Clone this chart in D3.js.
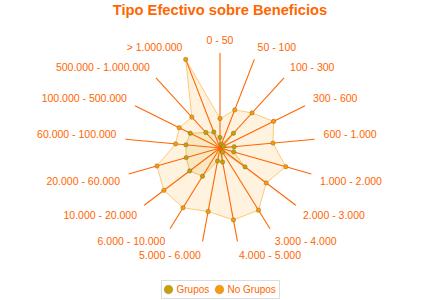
<!DOCTYPE html>
<html>
<head>
<meta charset="utf-8">
<script src="https://cdn.jsdelivr.net/npm/d3@7"></script>
<style>
  body { margin: 0; background: #fff; }
  #chart { width: 440px; height: 300px; }
  text { font-family: "Liberation Sans", Arial, sans-serif; }
</style>
</head>
<body>
<div id="chart"></div>
<script>
// categories (tramos) and series values
const categories = ["0 - 50", "50 - 100", "100 - 300", "300 - 600", "600 - 1.000",
  "1.000 - 2.000", "2.000 - 3.000", "3.000 - 4.000", "4.000 - 5.000", "5.000 - 6.000",
  "6.000 - 10.000", "10.000 - 20.000", "20.000 - 60.000", "60.000 - 100.000",
  "100.000 - 500.000", "500.000 - 1.000.000", "> 1.000.000"];
const grupos = [11, 4, 21, 4, 15, 15, 33, 5, 15, 14, 35, 40, 37, 36, 35, 22, 18];
const noGrupos = [31, 43, 50, 63, 56, 72, 61, 77, 77, 68, 74, 74, 69, 47, 48, 44, 100];
const seriesNames = ["Grupos", "No Grupos"];

/*
  SVG CANVAS
*/
const width = 440;
const height = 300;
const cx = 220, cy = 148;
const radius = 95;

const canvas = d3.select("#chart")
  .append("svg")
  .attr("width", width)
  .attr("height", height);

/*
  SCALES
*/
const angle = d3.scaleLinear()
  .domain([0, categories.length])
  .range([0, 2 * Math.PI]);

const rScale = d3.scaleLinear()
  .domain([0, 100])
  .range([0, radius]);

const color = d3.scaleOrdinal()
  .domain(seriesNames)
  .range(["#c9a000", "#ff9900"]);

const series = [
  {name: "No Grupos", values: noGrupos},
  {name: "Grupos", values: grupos}
];

/*
  TITLE
*/
canvas.append("text")
  .attr("x", width / 2)
  .attr("y", 15)
  .attr("text-anchor", "middle")
  .style("font-size", "14.7px")
  .style("font-weight", "bold")
  .attr("fill", "#ff6600")
  .text("Tipo Efectivo sobre Beneficios");

const g = canvas.append("g")
  .attr("transform", `translate(${cx},${cy})`);

/*
  AREAS
*/
const line = d3.lineRadial()
  .angle(function(d, i) { return angle(i); })
  .radius(function(d) { return rScale(d); })
  .curve(d3.curveLinearClosed);

g.selectAll("path.area")
  .data(series)
  .enter()
  .append("path")
    .attr("class", "area")
    .attr("d", function(d) { return line(d.values); })
    .attr("fill", function(d) { return color(d.name); })
    .attr("fill-opacity", 0.13)
    .attr("stroke", function(d) { return color(d.name); })
    .attr("stroke-opacity", 0.5)
    .attr("stroke-width", 1);

/*
  AXES (spokes)
*/
g.selectAll("line.spoke")
  .data(categories)
  .enter()
  .append("line")
    .attr("class", "spoke")
    .attr("x1", 0)
    .attr("y1", 0)
    .attr("x2", function(d, i) { return rScale(100) * Math.sin(angle(i)); })
    .attr("y2", function(d, i) { return -rScale(100) * Math.cos(angle(i)); })
    .attr("stroke", "#ff6600")
    .attr("stroke-width", 1.1);

/*
  AXIS LABELS
*/
const labelR = rScale(100) + 9;
g.selectAll("text.cat")
  .data(categories)
  .enter()
  .append("text")
    .attr("class", "cat")
    .attr("x", function(d, i) { return labelR * Math.sin(angle(i)); })
    .attr("y", function(d, i) { return -labelR * Math.cos(angle(i)); })
    .attr("dy", function(d, i) { return Math.cos(angle(i)) < 0 ? "0.8em" : "0"; })
    .attr("text-anchor", function(d, i) {
      const s = Math.sin(angle(i));
      return s > 0.1 ? "start" : (s < -0.1 ? "end" : "middle");
    })
    .style("font-size", "10.5px")
    .attr("fill", "#ff6600")
    .text(function(d) { return d; });

/*
  POINTS
*/
series.slice().reverse().forEach(function(s) {
  g.selectAll(null)
    .data(s.values)
    .enter()
    .append("circle")
      .attr("cx", function(d, i) { return rScale(d) * Math.sin(angle(i)); })
      .attr("cy", function(d, i) { return -rScale(d) * Math.cos(angle(i)); })
      .attr("r", 2.2)
      .attr("fill", color(s.name))
      .attr("stroke", "rgba(110,100,60,0.5)")
      .attr("stroke-width", 0.8);
});

/*
  LEGEND
*/
const legend = canvas.append("g")
  .attr("transform", "translate(161,280)");

legend.append("rect")
  .attr("x", 0.5)
  .attr("y", 0.5)
  .attr("width", 118)
  .attr("height", 18)
  .attr("fill", "#fff")
  .attr("stroke", "#dddddd");

const legendX = {"Grupos": 7, "No Grupos": 58};

const items = legend.selectAll("g.item")
  .data(seriesNames)
  .enter()
  .append("g")
    .attr("class", "item")
    .attr("transform", function(d) { return `translate(${legendX[d]},0)`; });

items.append("circle")
  .attr("cx", 0.5)
  .attr("cy", 9.5)
  .attr("r", 4.3)
  .attr("fill", function(d) { return color(d); })
  .attr("stroke", "rgba(90,90,90,0.35)")
  .attr("stroke-width", 0.8);

items.append("text")
  .attr("x", 8.5)
  .attr("y", 13)
  .style("font-size", "10px")
  .attr("fill", "#ff6600")
  .text(function(d) { return d; });
</script>
</body>
</html>
